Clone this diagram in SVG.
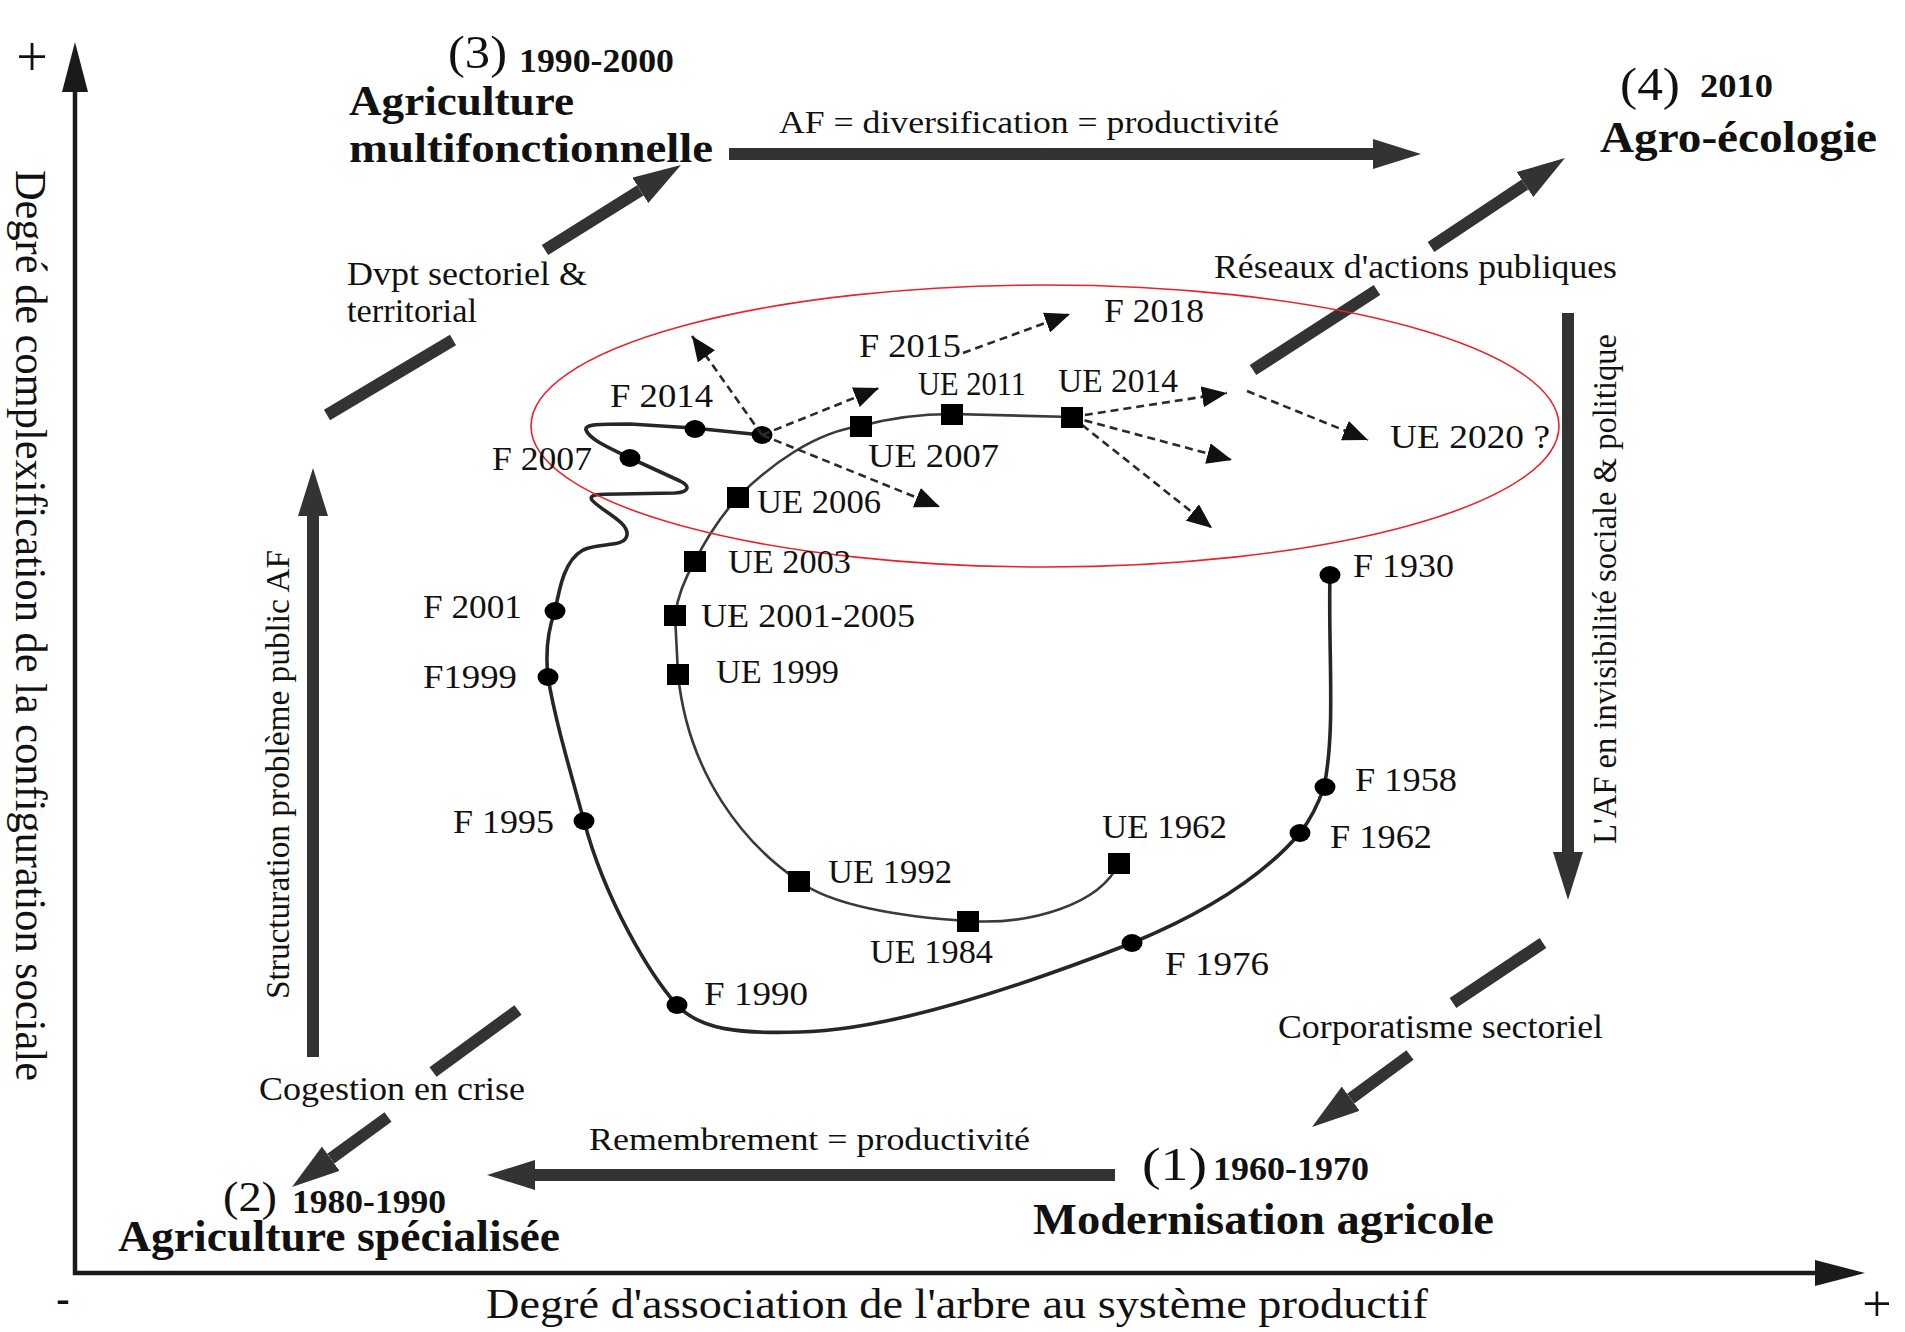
<svg xmlns="http://www.w3.org/2000/svg" width="1905" height="1332" viewBox="0 0 1905 1332">
<style>
text{font-family:"Liberation Serif","Times New Roman",serif;fill:#111}
.lbl{font-size:33px}
.b{font-weight:bold}
.big{stroke:#333;stroke-width:12;fill:none}
.axis{stroke:#1a1a1a;stroke-width:4.5;fill:none}
.dash{stroke:#2a2a2a;stroke-width:2.6;stroke-dasharray:8 5;fill:none}
.fc{stroke:#262626;stroke-width:3.6;fill:none;stroke-linejoin:round;stroke-linecap:round}
.uc{stroke:#3a3a3a;stroke-width:2.6;fill:none}
.dot{fill:#000}
.sq{fill:#000}
</style>
<defs>
<marker id="mBig" markerUnits="userSpaceOnUse" markerWidth="48" markerHeight="30" refX="0" refY="15" orient="auto"><path d="M0,0 L48,15 L0,30 z" fill="#333"/></marker>
<marker id="mAxis" markerUnits="userSpaceOnUse" markerWidth="50" markerHeight="26" refX="0" refY="13" orient="auto"><path d="M0,0 L50,13 L0,26 z" fill="#1a1a1a"/></marker>
<marker id="mDash" markerUnits="userSpaceOnUse" markerWidth="25" markerHeight="21" refX="25" refY="10.5" orient="auto"><path d="M0,0 L25,10.5 L0,21 z" fill="#111"/></marker>
</defs>
<rect width="1905" height="1332" fill="#fff"/>

<g id="axes">
<path class="axis" d="M75,1275 L75,92" marker-end="url(#mAxis)"/>
<path class="axis" d="M73,1273 L1815,1273" marker-end="url(#mAxis)"/>
<text x="32" y="76" font-size="56" text-anchor="middle">+</text>
<text x="1877" y="1321" font-size="52" text-anchor="middle">+</text>
<text x="63" y="1312" font-size="40" font-weight="bold" text-anchor="middle">-</text>
<text transform="translate(16,170) rotate(90)" font-size="44" textLength="911" lengthAdjust="spacingAndGlyphs">Degré de complexification de la configuration sociale</text>
<text x="486" y="1318" font-size="42" textLength="942" lengthAdjust="spacingAndGlyphs">Degré d'association de l'arbre au système productif</text>
</g>

<g id="q3">
<text x="448" y="68" font-size="46" textLength="59" lengthAdjust="spacingAndGlyphs">(3)</text>
<text class="b" x="519" y="72" font-size="34" textLength="155" lengthAdjust="spacingAndGlyphs">1990-2000</text>
<text class="b" x="349" y="115" font-size="42" textLength="225" lengthAdjust="spacingAndGlyphs">Agriculture</text>
<text class="b" x="349" y="162" font-size="42" textLength="364" lengthAdjust="spacingAndGlyphs">multifonctionnelle</text>
</g>
<g id="q4">
<text x="1620" y="100" font-size="46" textLength="60" lengthAdjust="spacingAndGlyphs">(4)</text>
<text class="b" x="1700" y="97" font-size="34" textLength="73" lengthAdjust="spacingAndGlyphs">2010</text>
<text class="b" x="1600" y="152" font-size="44" textLength="277" lengthAdjust="spacingAndGlyphs">Agro-écologie</text>
</g>
<g id="q1">
<text x="1142" y="1180" font-size="46" textLength="65" lengthAdjust="spacingAndGlyphs">(1)</text>
<text class="b" x="1213" y="1180" font-size="34" textLength="156" lengthAdjust="spacingAndGlyphs">1960-1970</text>
<text class="b" x="1033" y="1234" font-size="44" textLength="461" lengthAdjust="spacingAndGlyphs">Modernisation agricole</text>
</g>
<g id="q2">
<text x="223" y="1211" font-size="42" textLength="54" lengthAdjust="spacingAndGlyphs">(2)</text>
<text class="b" x="292" y="1213" font-size="33" textLength="154" lengthAdjust="spacingAndGlyphs">1980-1990</text>
<text class="b" x="118" y="1251" font-size="44" textLength="442" lengthAdjust="spacingAndGlyphs">Agriculture spécialisée</text>
</g>

<g id="connectors">
<path class="big" d="M729,154 L1373,154" marker-end="url(#mBig)"/>
<path class="big" d="M1115,1175 L535,1175" marker-end="url(#mBig)"/>
<path class="big" d="M313,1057 L313,516" marker-end="url(#mBig)"/>
<path class="big" d="M1568,313 L1568,852" marker-end="url(#mBig)"/>
<path class="big" d="M327,415 L453,340"/>
<path class="big" d="M545,250 L640.3,190.4" marker-end="url(#mBig)"/>
<path class="big" d="M1253,370 L1377,290"/>
<path class="big" d="M1431,247 L1525,184.5" marker-end="url(#mBig)"/>
<path class="big" d="M1543,943 L1453,1003"/>
<path class="big" d="M1410,1055 L1350.7,1098.6" marker-end="url(#mBig)"/>
<path class="big" d="M518,1010 L433,1072"/>
<path class="big" d="M388,1117 L330.8,1158.7" marker-end="url(#mBig)"/>
</g>

<g id="arrow-labels">
<text x="779" y="133" font-size="32" textLength="500" lengthAdjust="spacingAndGlyphs">AF = diversification = productivité</text>
<text x="589" y="1150" font-size="32" textLength="441" lengthAdjust="spacingAndGlyphs">Remembrement = productivité</text>
<text transform="translate(289,999) rotate(-90)" font-size="33" textLength="449" lengthAdjust="spacingAndGlyphs">Structuration problème public AF</text>
<text transform="translate(1616,844) rotate(-90)" font-size="34" textLength="510" lengthAdjust="spacingAndGlyphs">L'AF en invisibilité sociale &amp; politique</text>
<text x="347" y="285" font-size="33" textLength="240" lengthAdjust="spacingAndGlyphs">Dvpt sectoriel &amp;</text>
<text x="347" y="322" font-size="33" textLength="130" lengthAdjust="spacingAndGlyphs">territorial</text>
<text x="1214" y="278" font-size="33" textLength="403" lengthAdjust="spacingAndGlyphs">Réseaux d'actions publiques</text>
<text x="1278" y="1038" font-size="33" textLength="325" lengthAdjust="spacingAndGlyphs">Corporatisme sectoriel</text>
<text x="259" y="1100" font-size="33" textLength="266" lengthAdjust="spacingAndGlyphs">Cogestion en crise</text>
</g>

<g id="curve-F">
<path class="fc" d="M1330,575 C1328,650 1336,730 1324,787 C1318,805 1310,820 1300,833 C1260,880 1200,915 1132,943 C1050,975 900,1030 800,1032 C740,1034 700,1030 677,1005 C650,975 605,900 584,821 C570,770 555,720 548,677 C545,650 548,630 555,611 C560,585 565,560 583,550 C600,542 625,548 627,535 C629,522 600,510 592,500 C588,494 600,494 620,494 L675,493 C690,492 690,486 680,481 L630,458 C610,448 590,440 586,430 C584,424 600,424 630,424 L693,428 L762,435"/>
<ellipse class="dot" cx="762" cy="435" rx="10.5" ry="9"/>
</g>
<g id="curve-UE">
<path class="uc" d="M1119,863 C1100,905 1030,925 968,921 C900,917 830,905 799,881 C745,845 688,775 678,674 L675,615 C678,595 685,578 695,561 C708,535 722,515 738,497 C770,465 815,432 861,426 C890,418 920,414 952,414 L1072,417"/>
</g>

<g id="dashed-connectors">
<path class="dash" d="M762,435 L692,336" marker-end="url(#mDash)"/>
<path class="dash" d="M762,435 L940,507" marker-end="url(#mDash)"/>
<path class="dash" d="M762,435 L879,388" marker-end="url(#mDash)"/>
<path class="dash" d="M963,353 L1070,314" marker-end="url(#mDash)"/>
<path class="dash" d="M1072,417 L1227,393" marker-end="url(#mDash)"/>
<path class="dash" d="M1072,417 L1232,460" marker-end="url(#mDash)"/>
<path class="dash" d="M1072,417 L1212,528" marker-end="url(#mDash)"/>
<path class="dash" d="M1247,391 L1368,440" marker-end="url(#mDash)"/>
</g>

<ellipse id="focus-ellipse" cx="1045" cy="426" rx="514" ry="141" fill="none" stroke="#e8232b" stroke-width="1.6"/>

<g id="F1930"><ellipse class="dot" cx="1330" cy="575" rx="10.5" ry="9"/><text class="lbl" x="1353" y="577" textLength="101" lengthAdjust="spacingAndGlyphs">F 1930</text></g>
<g id="F1958"><ellipse class="dot" cx="1325" cy="787" rx="10.5" ry="9"/><text class="lbl" x="1355" y="791" textLength="102" lengthAdjust="spacingAndGlyphs">F 1958</text></g>
<g id="F1962"><ellipse class="dot" cx="1300" cy="833" rx="10.5" ry="9"/><text class="lbl" x="1330" y="848" textLength="102" lengthAdjust="spacingAndGlyphs">F 1962</text></g>
<g id="F1976"><ellipse class="dot" cx="1132" cy="943" rx="10.5" ry="9"/><text class="lbl" x="1165" y="975" textLength="104" lengthAdjust="spacingAndGlyphs">F 1976</text></g>
<g id="F1990"><ellipse class="dot" cx="677" cy="1005" rx="10.5" ry="9"/><text class="lbl" x="704" y="1005" textLength="104" lengthAdjust="spacingAndGlyphs">F 1990</text></g>
<g id="F1995"><ellipse class="dot" cx="584" cy="821" rx="10.5" ry="9"/><text class="lbl" x="453" y="833" textLength="101" lengthAdjust="spacingAndGlyphs">F 1995</text></g>
<g id="F1999"><ellipse class="dot" cx="548" cy="677" rx="10.5" ry="9"/><text class="lbl" x="423" y="688" textLength="94" lengthAdjust="spacingAndGlyphs">F1999</text></g>
<g id="F2001"><ellipse class="dot" cx="555" cy="611" rx="10.5" ry="9"/><text class="lbl" x="423" y="618" textLength="99" lengthAdjust="spacingAndGlyphs">F 2001</text></g>
<g id="F2007"><ellipse class="dot" cx="630" cy="458" rx="10.5" ry="9"/><text class="lbl" x="492" y="470" textLength="100" lengthAdjust="spacingAndGlyphs">F 2007</text></g>
<g id="F2014"><ellipse class="dot" cx="695" cy="429" rx="10.5" ry="9"/><text class="lbl" x="610" y="407" textLength="103" lengthAdjust="spacingAndGlyphs">F 2014</text></g>
<g id="F2015"><text class="lbl" x="859" y="357" textLength="102" lengthAdjust="spacingAndGlyphs">F 2015</text></g>
<g id="F2018"><text class="lbl" x="1104" y="322" textLength="100" lengthAdjust="spacingAndGlyphs">F 2018</text></g>

<g id="UE1962"><rect class="sq" x="1108" y="853" width="22" height="21"/><text class="lbl" x="1102" y="838" textLength="125" lengthAdjust="spacingAndGlyphs">UE 1962</text></g>
<g id="UE1984"><rect class="sq" x="957" y="911" width="22" height="21"/><text class="lbl" x="870" y="963" textLength="123" lengthAdjust="spacingAndGlyphs">UE 1984</text></g>
<g id="UE1992"><rect class="sq" x="788" y="871" width="22" height="21"/><text class="lbl" x="828" y="883" textLength="124" lengthAdjust="spacingAndGlyphs">UE 1992</text></g>
<g id="UE1999"><rect class="sq" x="667" y="664" width="22" height="21"/><text class="lbl" x="716" y="683" textLength="123" lengthAdjust="spacingAndGlyphs">UE 1999</text></g>
<g id="UE2001-2005"><rect class="sq" x="664" y="605" width="22" height="21"/><text class="lbl" x="701" y="627" textLength="214" lengthAdjust="spacingAndGlyphs">UE 2001-2005</text></g>
<g id="UE2003"><rect class="sq" x="684" y="551" width="22" height="21"/><text class="lbl" x="728" y="573" textLength="123" lengthAdjust="spacingAndGlyphs">UE 2003</text></g>
<g id="UE2006"><rect class="sq" x="727" y="487" width="22" height="21"/><text class="lbl" x="757" y="513" textLength="124" lengthAdjust="spacingAndGlyphs">UE 2006</text></g>
<g id="UE2007"><rect class="sq" x="850" y="416" width="22" height="21"/><text class="lbl" x="868" y="467" textLength="131" lengthAdjust="spacingAndGlyphs">UE 2007</text></g>
<g id="UE2011"><rect class="sq" x="941" y="404" width="22" height="21"/><text class="lbl" x="918" y="395" font-size="29" textLength="108" lengthAdjust="spacingAndGlyphs">UE 2011</text></g>
<g id="UE2014"><rect class="sq" x="1061" y="407" width="22" height="21"/><text class="lbl" x="1058" y="392" textLength="120" lengthAdjust="spacingAndGlyphs">UE 2014</text></g>
<g id="UE2020"><text class="lbl" x="1390" y="448" textLength="160" lengthAdjust="spacingAndGlyphs">UE 2020 ?</text></g>
</svg>
